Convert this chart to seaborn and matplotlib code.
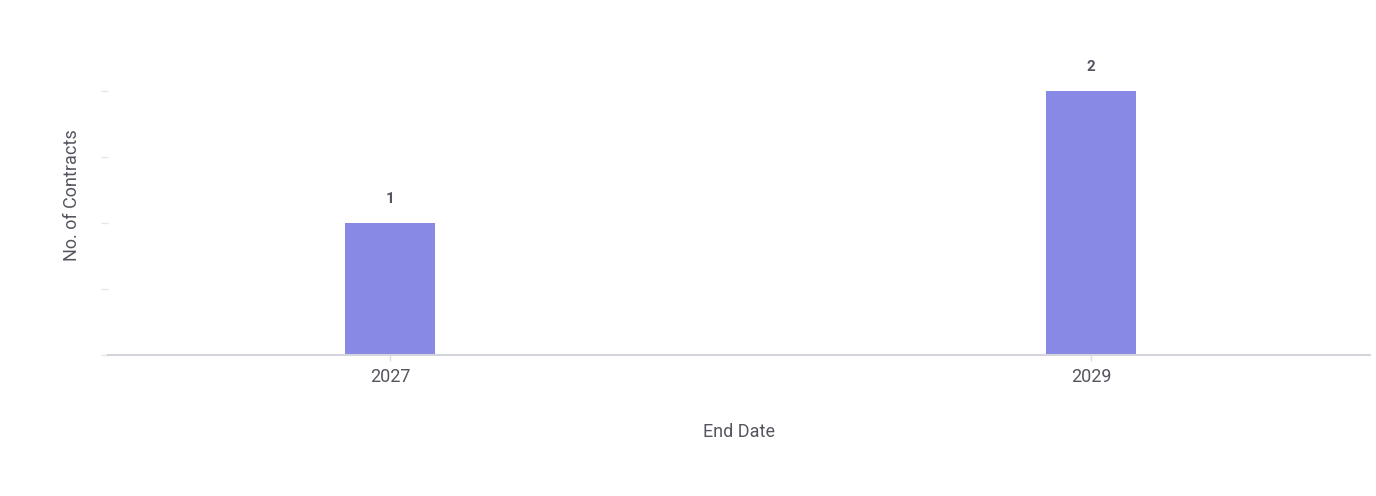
import matplotlib
matplotlib.use("Agg")
import matplotlib.pyplot as plt
import seaborn as sns
import pandas as pd

years = ["2027", "2029"]
contracts = [1, 2]

sns.set_theme(style="white")
plt.rcParams["font.family"] = ["Roboto", "DejaVu Sans"]

df = pd.DataFrame({"End Date": years, "No. of Contracts": contracts})

fig = plt.figure(figsize=(13.76, 4.96), dpi=100)
ax = fig.add_axes([108/1376, 1 - 355/496, (1370 - 108)/1376, (355 - 91)/496])

sns.barplot(data=df, x="End Date", y="No. of Contracts", color="#8789E4",
            saturation=1, width=0.128, ax=ax)
for p in ax.patches:
    p.set_edgecolor("#8789E4")
    p.set_linewidth(0)

ax.set_xlim(-0.402, 1.398)
ax.set_ylim(0, 2)
ax.set_yticks([0, 0.5, 1, 1.5, 2])
ax.set_yticklabels([])
ax.tick_params(axis="y", left=True, length=5, width=1, color="#e6e6e6", pad=0)
ax.tick_params(axis="x", bottom=True, length=4, width=1, color="#dcdcdc",
               labelsize=13, labelcolor="#555560", pad=5)

for s in ["top", "right", "left"]:
    ax.spines[s].set_visible(False)
ax.spines["bottom"].set_color("#d4d4dc")
ax.spines["bottom"].set_linewidth(1.5)

for i, v in enumerate(contracts):
    ax.annotate(str(v), (i, v), xytext=(0, 12), textcoords="offset points",
                ha="center", va="bottom", fontsize=11, fontweight="bold",
                color="#555560", annotation_clip=False)

ax.set_xlabel("End Date", fontsize=13, color="#555560")
ax.set_ylabel("No. of Contracts", fontsize=13, color="#555560")
ax.xaxis.set_label_coords(0.5, -(432 - 355) / 264, transform=ax.transAxes)
ax.yaxis.set_label_coords((72 - 108) / 1262, (355 - 195) / 264, transform=ax.transAxes)
ax.xaxis.label.set_va("center")
ax.yaxis.label.set_va("center")

fig.savefig("out.png", dpi=100, facecolor="white")
